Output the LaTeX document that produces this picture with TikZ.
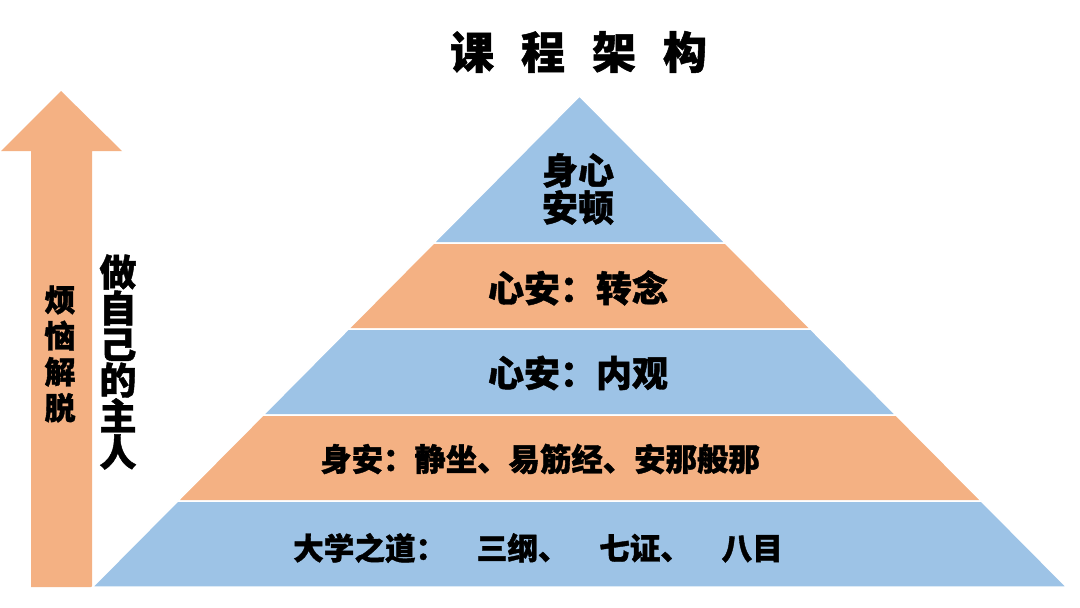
\documentclass[tikz,border=0pt]{standalone}
\usepackage{fontspec}
\setmainfont{Noto Sans CJK SC}[BoldFeatures={FakeBold=1.2}]
\definecolor{porange}{RGB}{244,177,131}
\definecolor{pblue}{RGB}{157,195,230}
\begin{document}
\begin{tikzpicture}[x=1pt,y=-1pt,
  band/.style={draw=white,line width=1.5pt,line join=miter},
  lbl/.style={inner sep=0pt,align=center,font={\bfseries\fontsize{#1pt}{#1pt}\selectfont}},
  vlbl/.style={inner sep=0pt,align=center,font={\bfseries\fontsize{#1pt}{36pt}\selectfont}}]
\useasboundingbox (0,0) rectangle (1080,608);
\fill[white] (0,0) rectangle (1080,608);
% arrow
\fill[porange] (61,91) -- (122,151) -- (92,151) -- (92,587) -- (31,587) -- (31,151) -- (1,151) -- cycle;
% pyramid bands
\filldraw[band,fill=pblue] (579.5,96) -- (725.3,243) -- (433.7,243) -- cycle;
\filldraw[band,fill=porange] (433.7,243) -- (725.3,243) -- (810.6,329) -- (348.4,329) -- cycle;
\filldraw[band,fill=pblue] (348.4,329) -- (810.6,329) -- (895.9,415) -- (263.1,415) -- cycle;
\filldraw[band,fill=porange] (263.1,415) -- (895.9,415) -- (981.3,501) -- (177.7,501) -- cycle;
\filldraw[band,fill=pblue] (177.7,501) -- (981.3,501) -- (1066.6,587) -- (92.4,587) -- cycle;
% texts
\node[lbl=44] (title) at (578.5,52) {课\hspace{27pt}程\hspace{27pt}架\hspace{27pt}构};
\node[lbl=36] (t1) at (578,189) {身心\\[1pt]安顿};
\node[lbl=36] (t2) at (578,288) {心安：转念};
\node[lbl=36] (t3) at (578,373) {心安：内观};
\node[lbl=31.4] (t4) at (540,459) {身安：静坐、易筋经、安那般那};
\node[lbl=30.6] (t5) at (538,548) {大学之道：　三纲、　七证、　八目};
\node[vlbl=31] (left) at (60,354) {烦\\恼\\解\\脱};
\node[vlbl=37] (master) at (118,362) {做\\自\\己\\的\\主\\人};
\end{tikzpicture}
\end{document}
